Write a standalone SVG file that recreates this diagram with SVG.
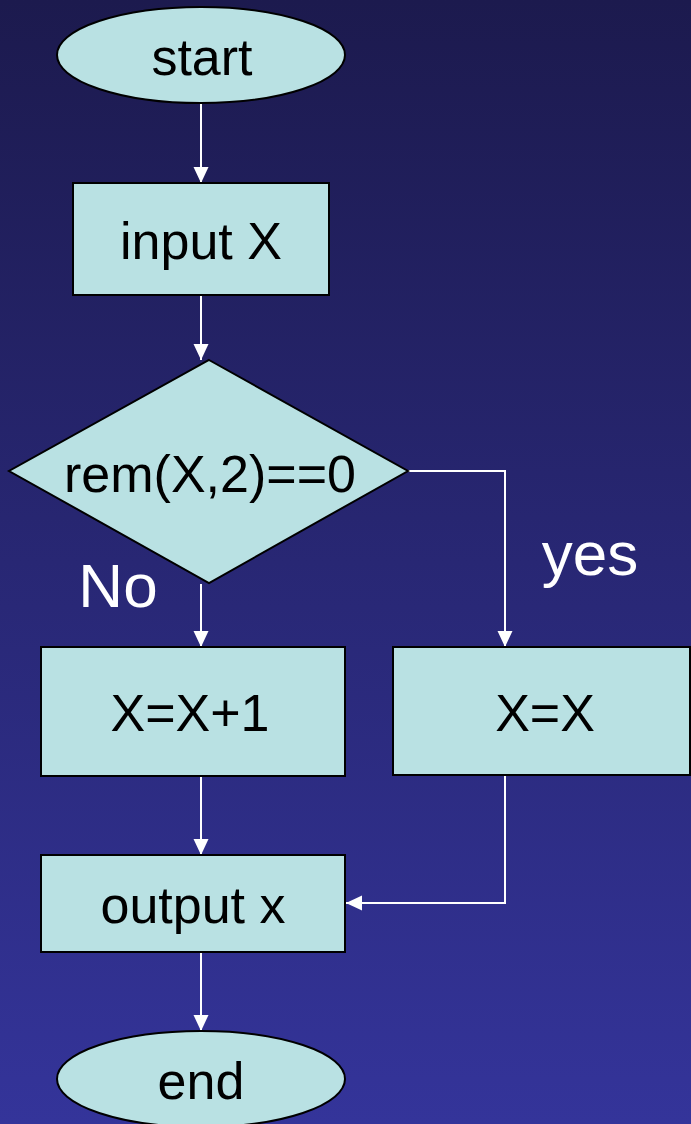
<svg xmlns="http://www.w3.org/2000/svg" width="691" height="1124" viewBox="0 0 691 1124">
  <defs>
    <linearGradient id="bg" x1="0" y1="0" x2="0" y2="1">
      <stop offset="0" stop-color="#1c1a4e"/>
      <stop offset="1" stop-color="#34349a"/>
    </linearGradient>
    <marker id="arrow" markerUnits="userSpaceOnUse" markerWidth="16" markerHeight="16" refX="16" refY="7.5" orient="auto">
      <path d="M0,0 L16,7.5 L0,15 z" fill="#ffffff"/>
    </marker>
  </defs>
  <style>
    .shape { fill: #b9e1e3; stroke: #000000; stroke-width: 2; }
    .label { font-family: "Liberation Sans", Arial, sans-serif; font-size: 52px; fill: #000000; text-anchor: middle; }
    .edge-label { font-family: "Liberation Sans", Arial, sans-serif; font-size: 62px; fill: #ffffff; text-anchor: middle; }
    .conn { fill: none; stroke: #ffffff; stroke-width: 2; marker-end: url(#arrow); }
  </style>
  <rect x="0" y="0" width="691" height="1124" fill="url(#bg)"/>

  <g id="connectors">
    <path class="conn" d="M201,103 L201,183"/>
    <path class="conn" d="M201,295 L201,360"/>
    <path class="conn" d="M408,471 L505,471 L505,647"/>
    <path class="conn" d="M201,584 L201,647"/>
    <path class="conn" d="M201,776 L201,855"/>
    <path class="conn" d="M505,775 L505,903 L346,903"/>
    <path class="conn" d="M201,952 L201,1031"/>
  </g>

  <g id="node-start">
    <ellipse class="shape" cx="201" cy="55" rx="144" ry="48"/>
    <text class="label" x="202" y="75">start</text>
  </g>
  <g id="node-input">
    <rect class="shape" x="73" y="183" width="256" height="112"/>
    <text class="label" x="201" y="259">input X</text>
  </g>
  <g id="node-decision">
    <polygon class="shape" points="209,360 408,471 209,583 9,471"/>
    <text class="label" x="210" y="492">rem(X,2)==0</text>
  </g>
  <g id="node-increment">
    <rect class="shape" x="41" y="647" width="304" height="129"/>
    <text class="label" x="190" y="731">X=X+1</text>
  </g>
  <g id="node-same">
    <rect class="shape" x="393" y="647" width="297" height="128"/>
    <text class="label" x="545" y="731">X=X</text>
  </g>
  <g id="node-output">
    <rect class="shape" x="41" y="855" width="304" height="97"/>
    <text class="label" x="193" y="923">output x</text>
  </g>
  <g id="node-end">
    <ellipse class="shape" cx="201" cy="1079" rx="144" ry="48"/>
    <text class="label" x="201" y="1099">end</text>
  </g>

  <g id="edge-labels">
    <text class="edge-label" x="118" y="607">No</text>
    <text class="edge-label" x="590" y="575">yes</text>
  </g>
</svg>
